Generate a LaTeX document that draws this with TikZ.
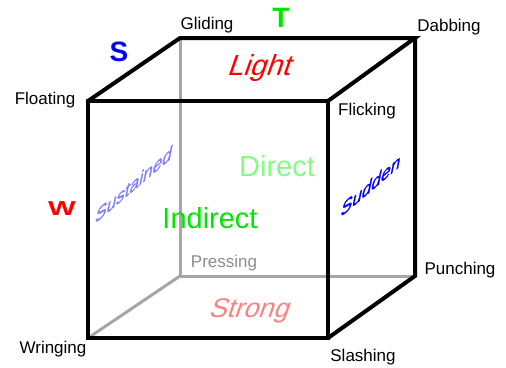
\documentclass[tikz,border=0pt]{standalone}
\usepackage{fontspec}
\setmainfont{Liberation Sans}
\newfontfamily\slantfont[FakeSlant=0.35]{Liberation Sans}
\newfontfamily\heavyfont[FakeBold=1.3]{Liberation Sans}
\definecolor{sustblue}{RGB}{128,128,255}
\definecolor{dirgreen}{RGB}{128,255,128}
\definecolor{indgreen}{RGB}{0,230,0}
\definecolor{strongred}{RGB}{255,128,128}

\begin{document}
\begin{tikzpicture}[x=1pt,y=-1pt,
  lbl/.style={inner sep=0pt,font=\fontsize{17}{20}\selectfont},
  axis/.style={inner sep=0pt,font=\fontsize{28}{32}\selectfont\bfseries},
  effort/.style={inner sep=0pt,font=\fontsize{29}{33}\slantfont},
  flow/.style={inner sep=0pt,font=\fontsize{21}{25}\heavyfont,cm={0.82,0.7,0.2,1,(0,0)}},
  space/.style={inner sep=0pt,font=\fontsize{29}{33}\selectfont},
  edge/.style={line width=4pt,line join=miter},
  hidden/.style={line width=3pt,black!35}]
\useasboundingbox (0,0) rectangle (506,367);

% corners of the cube
\coordinate (flo) at (88,101);
\coordinate (fli) at (328,101);
\coordinate (wri) at (88,338);
\coordinate (sla) at (328,338);
\coordinate (gli) at (180,38);
\coordinate (dab) at (415,38);
\coordinate (pre) at (180,276);
\coordinate (pun) at (415,276);

% hidden edges
\draw[hidden] (gli) -- (pre);
\draw[hidden] (pre) -- (pun);
\draw[hidden] (pre) -- (wri);

% visible edges
\draw[edge] (flo) -- (fli) -- (sla) -- (wri) -- cycle;
\draw[edge] (flo) -- (gli) -- (dab) -- (fli);
\draw[edge] (dab) -- (pun) -- (sla);

% actions
\node[lbl] (glid) at (207,25) {Gliding};
\node[lbl] (dabb) at (449,27) {Dabbing};
\node[lbl] (floa) at (45,100) {Floating};
\node[lbl] (flic) at (367,111) {Flicking};
\node[lbl,black!45] (pres) at (224,263) {Pressing};
\node[lbl] (punc) at (460,270) {Punching};
\node[lbl] (wrin) at (53,349) {Wringing};
\node[lbl] (slas) at (363,357) {Slashing};

% factors
\node[axis,indgreen] (t) at (281,18) {T};
\node[axis,blue] (s) at (119,52) {S};
\node[axis,red] (w) at (62,209) {\scalebox{1.05}[0.72]{W}};

% effort qualities
\node[effort,red] (light) at (258,68) {Light};
\node[effort,strongred,font=\fontsize{27}{31}\slantfont] (strong) at (248,311) {Strong};
\node[flow,sustblue] (sust) at (134,184) {Sustained};
\node[flow,blue] (sudd) at (371,185) {Sudden};
\node[space,dirgreen] (dir) at (277,166) {Direct};
\node[space,indgreen] (indir) at (210,218) {Indirect};
\end{tikzpicture}
\end{document}
